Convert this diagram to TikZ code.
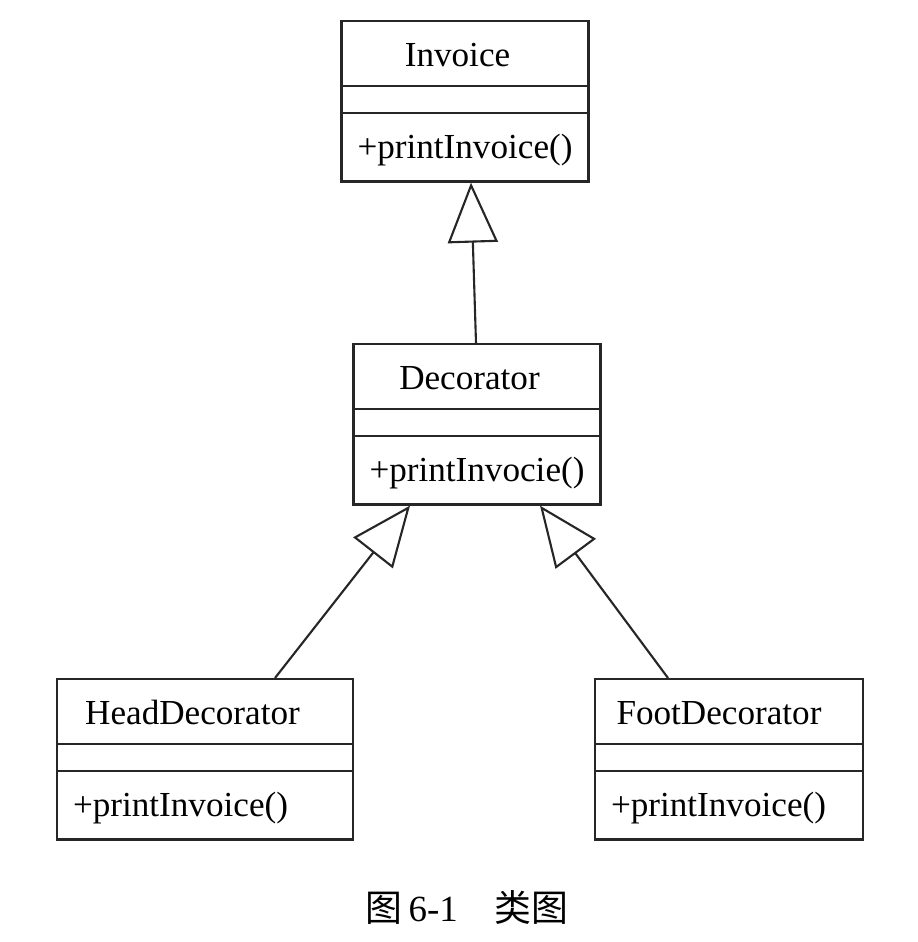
\documentclass[tikz,border=0pt]{standalone}
\usepackage{fontspec}
\setmainfont{Liberation Serif}
\newfontfamily\cjk{Noto Sans CJK SC}
\usetikzlibrary{shapes.multipart,arrows.meta}

\newcommand{\titlestrut}{\rule[-0.37cm]{0pt}{1.25cm}}
\newcommand{\fieldstrut}{\rule{0pt}{0.50cm}}
\newcommand{\methodstrut}{\rule[-0.44cm]{0pt}{1.32cm}}

\tikzstyle{umlclass} = [rectangle split, rectangle split parts=3, draw=black!85, line width=1.3pt,
    rectangle split part align={center,center,left}, inner xsep=0.32cm, inner ysep=0pt,
    font=\fontsize{20}{24}\selectfont, anchor=north]
\tikzstyle{inherit} = [draw=black!85, line width=1.2pt, -{Triangle[open, length=1.2cm, width=1.0cm]}]

\begin{document}
\begin{tikzpicture}
    \useasboundingbox (0,0) rectangle (18.36,-18.84);
    \node [umlclass, minimum width=4.88cm] (Invoice) at (9.30,-0.40)
        {\titlestrut Invoice\kern0.3cm \nodepart{second}\fieldstrut \nodepart{third}\methodstrut +printInvoice()};
    \node [umlclass, minimum width=4.84cm] (Decorator) at (9.54,-6.86)
        {\titlestrut Decorator\kern0.3cm \nodepart{second}\fieldstrut \nodepart{third}\methodstrut +printInvocie()};
    \node [umlclass, minimum width=5.92cm] (HeadDecorator) at (4.10,-13.56)
        {\titlestrut HeadDecorator\kern0.5cm \nodepart{second}\fieldstrut \nodepart{third}\methodstrut +printInvoice()};
    \node [umlclass, minimum width=5.36cm] (FootDecorator) at (14.58,-13.56)
        {\titlestrut FootDecorator\kern0.4cm \nodepart{second}\fieldstrut \nodepart{third}\methodstrut +printInvoice()};

    \path [inherit] ([xshift=-0.02cm]Decorator.north) -- ([xshift=0.12cm]Invoice.south);
    \path [inherit] ([xshift=1.40cm]HeadDecorator.north) -- ([xshift=-1.34cm]Decorator.south);
    \path [inherit] ([xshift=-1.22cm]FootDecorator.north) -- ([xshift=1.26cm]Decorator.south);

    \node (Caption) at (9.34,-18.14) {\fontsize{21}{24}\selectfont\cjk 图\,{\rmfamily 6-1}\hspace{1em}类图};
\end{tikzpicture}
\end{document}
